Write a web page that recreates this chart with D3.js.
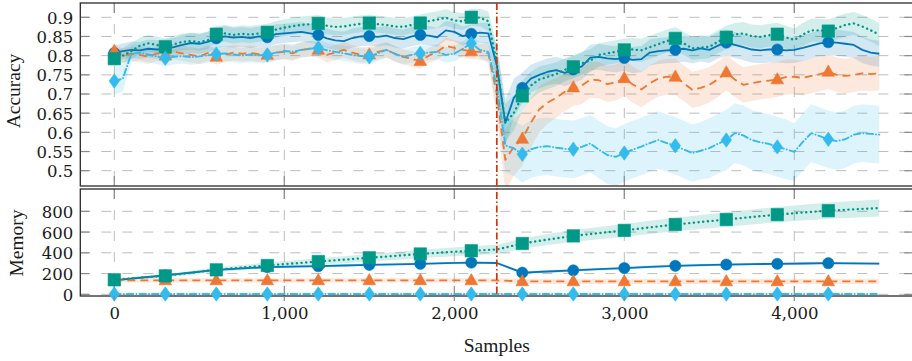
<!DOCTYPE html>
<html>
<head>
<meta charset="utf-8">
<script src="https://cdn.jsdelivr.net/npm/d3@7"></script>
<style>
  body { margin: 0; background: #fff; }
  svg { display: block; }
</style>
</head>
<body>
<svg id="chart" width="912" height="361"></svg>
<script>
// ---- data -------------------------------------------------------------
// accuracy curves are sampled every 50 samples (0 .. 4500)
const accStep = 50;
const accBlue = [
  0.807,0.812,0.815,0.814,0.818,0.816,0.818,0.822,0.828,0.833,
  0.831,0.836,0.845,0.850,0.847,0.849,0.846,0.850,0.848,0.856,
  0.858,0.860,0.862,0.858,0.854,0.845,0.840,0.838,0.846,0.850,
  0.851,0.849,0.852,0.846,0.843,0.850,0.854,0.852,0.848,0.866,
  0.862,0.851,0.857,0.860,0.858,0.775,0.625,0.690,0.716,0.740,
  0.750,0.758,0.762,0.755,0.764,0.772,0.795,0.797,0.793,0.791,
  0.794,0.789,0.791,0.808,0.812,0.814,0.815,0.818,0.814,0.819,
  0.815,0.826,0.834,0.828,0.822,0.816,0.814,0.816,0.816,0.814,
  0.815,0.820,0.826,0.832,0.835,0.834,0.831,0.828,0.815,0.808,
  0.805];
const accBlueSd = [
  0.020,0.020,0.022,0.022,0.024,0.024,0.025,0.025,0.026,0.026,
  0.026,0.027,0.027,0.027,0.026,0.026,0.026,0.026,0.026,0.026,
  0.025,0.025,0.025,0.025,0.025,0.025,0.025,0.025,0.025,0.025,
  0.025,0.025,0.025,0.025,0.025,0.025,0.025,0.025,0.025,0.025,
  0.025,0.025,0.025,0.026,0.028,0.050,0.060,0.050,0.040,0.036,
  0.035,0.035,0.035,0.035,0.035,0.035,0.034,0.034,0.034,0.034,
  0.034,0.034,0.034,0.034,0.034,0.034,0.034,0.034,0.034,0.034,
  0.034,0.034,0.034,0.034,0.034,0.034,0.034,0.034,0.034,0.034,
  0.034,0.034,0.034,0.034,0.034,0.034,0.034,0.034,0.034,0.034,
  0.034];
const accOrange = [
  0.812,0.800,0.805,0.802,0.797,0.806,0.800,0.810,0.806,0.802,
  0.798,0.807,0.797,0.802,0.808,0.805,0.807,0.804,0.802,0.808,
  0.810,0.806,0.815,0.818,0.815,0.802,0.808,0.815,0.808,0.802,
  0.803,0.810,0.815,0.805,0.797,0.792,0.786,0.800,0.810,0.826,
  0.820,0.815,0.811,0.810,0.806,0.700,0.528,0.562,0.583,0.625,
  0.660,0.678,0.690,0.706,0.717,0.722,0.737,0.736,0.726,0.730,
  0.741,0.725,0.712,0.728,0.740,0.745,0.745,0.728,0.711,0.716,
  0.724,0.738,0.756,0.738,0.724,0.728,0.732,0.735,0.738,0.744,
  0.745,0.742,0.747,0.752,0.758,0.750,0.747,0.750,0.754,0.752,
  0.754];
const accOrangeSd = [
  0.018,0.018,0.018,0.019,0.019,0.019,0.020,0.020,0.020,0.020,
  0.020,0.020,0.020,0.020,0.020,0.020,0.020,0.020,0.020,0.020,
  0.020,0.020,0.020,0.020,0.020,0.020,0.020,0.020,0.020,0.020,
  0.020,0.020,0.020,0.020,0.020,0.020,0.020,0.020,0.020,0.020,
  0.020,0.020,0.020,0.021,0.024,0.060,0.080,0.075,0.070,0.065,
  0.060,0.055,0.052,0.050,0.048,0.048,0.047,0.047,0.047,0.047,
  0.047,0.047,0.047,0.047,0.047,0.047,0.047,0.047,0.047,0.047,
  0.046,0.046,0.046,0.046,0.046,0.046,0.046,0.046,0.046,0.046,
  0.045,0.045,0.045,0.045,0.045,0.045,0.045,0.045,0.045,0.045,
  0.045];
const accTeal = [
  0.792,0.800,0.812,0.826,0.832,0.828,0.823,0.830,0.836,0.838,
  0.835,0.840,0.856,0.858,0.854,0.857,0.855,0.858,0.861,0.868,
  0.873,0.877,0.880,0.882,0.884,0.878,0.875,0.876,0.880,0.883,
  0.885,0.882,0.880,0.876,0.875,0.880,0.885,0.890,0.894,0.899,
  0.892,0.889,0.900,0.899,0.890,0.780,0.625,0.650,0.695,0.722,
  0.738,0.745,0.752,0.763,0.771,0.780,0.787,0.802,0.806,0.810,
  0.815,0.816,0.814,0.822,0.830,0.838,0.845,0.832,0.819,0.821,
  0.823,0.836,0.848,0.855,0.858,0.851,0.849,0.853,0.856,0.848,
  0.841,0.855,0.866,0.866,0.864,0.872,0.880,0.884,0.876,0.866,
  0.855];
const accTealSd = [
  0.020,0.020,0.021,0.021,0.022,0.022,0.022,0.022,0.022,0.022,
  0.022,0.022,0.022,0.022,0.022,0.022,0.022,0.022,0.022,0.022,
  0.022,0.022,0.022,0.022,0.022,0.022,0.022,0.022,0.022,0.022,
  0.022,0.022,0.022,0.022,0.022,0.022,0.022,0.022,0.022,0.022,
  0.022,0.022,0.022,0.023,0.025,0.045,0.050,0.045,0.040,0.036,
  0.034,0.032,0.031,0.030,0.030,0.030,0.030,0.030,0.030,0.030,
  0.030,0.030,0.030,0.030,0.030,0.030,0.030,0.030,0.030,0.030,
  0.030,0.030,0.030,0.030,0.030,0.030,0.030,0.030,0.030,0.030,
  0.030,0.030,0.030,0.030,0.030,0.030,0.030,0.030,0.030,0.030,
  0.030];
const accCyan = [
  0.734,0.740,0.805,0.808,0.803,0.798,0.793,0.797,0.799,0.796,
  0.798,0.801,0.804,0.806,0.803,0.800,0.803,0.801,0.802,0.808,
  0.812,0.810,0.815,0.818,0.820,0.814,0.810,0.806,0.802,0.799,
  0.797,0.806,0.815,0.805,0.797,0.802,0.806,0.808,0.810,0.802,
  0.805,0.818,0.832,0.815,0.810,0.720,0.566,0.558,0.543,0.556,
  0.562,0.564,0.560,0.557,0.556,0.562,0.571,0.555,0.541,0.536,
  0.546,0.555,0.563,0.572,0.580,0.572,0.565,0.555,0.546,0.552,
  0.559,0.570,0.580,0.598,0.592,0.580,0.574,0.570,0.562,0.556,
  0.549,0.575,0.598,0.590,0.582,0.577,0.582,0.594,0.598,0.596,
  0.594];
const accCyanSd = [
  0.035,0.035,0.022,0.020,0.020,0.020,0.020,0.020,0.020,0.020,
  0.020,0.020,0.020,0.020,0.020,0.020,0.020,0.020,0.020,0.020,
  0.020,0.020,0.020,0.020,0.020,0.020,0.020,0.020,0.020,0.020,
  0.020,0.020,0.020,0.020,0.020,0.020,0.020,0.020,0.020,0.020,
  0.020,0.020,0.020,0.021,0.025,0.060,0.070,0.072,0.074,0.075,
  0.075,0.075,0.075,0.075,0.075,0.075,0.075,0.075,0.075,0.075,
  0.075,0.075,0.075,0.075,0.075,0.075,0.075,0.075,0.075,0.075,
  0.078,0.078,0.078,0.078,0.078,0.078,0.078,0.078,0.078,0.078,
  0.075,0.075,0.075,0.075,0.075,0.075,0.075,0.075,0.075,0.075,
  0.075];

// memory curves are sampled every 150 samples (0 .. 4500)
const memStep = 150;
const memBlue   = [135,160,182,210,235,250,262,267,271,278,284,289,294,300,306,302,
                   209,220,231,242,253,264,275,281,287,291,294,297,300,298,295];
const memBlueSd = [6,7,8,9,10,10,10,10,10,10,10,10,10,10,10,10,
                   14,14,14,13,13,13,12,12,12,12,12,12,12,12,12];
const memOrange   = [135,135,135,135,135,135,135,135,135,135,135,135,135,135,135,134,
                     125,125,125,125,125,125,125,125,125,125,125,125,125,125,125];
const memOrangeSd = [20,20,20,20,20,20,20,20,20,20,20,20,20,20,20,20,
                     25,25,25,25,25,25,25,25,25,25,25,25,25,25,25];
const memTeal   = [140,160,178,208,236,258,278,297,316,334,352,370,389,405,420,432,
                   490,528,563,590,616,645,673,697,721,745,768,788,806,819,831];
const memTealSd = [10,13,16,19,22,25,28,30,32,34,36,38,40,42,44,46,
                   50,53,56,59,62,64,66,68,70,72,74,76,78,80,82];
const memCyan   = [3,3,3,3,3,3,3,3,3,3,3,3,3,3,3,3,3,3,3,3,3,3,3,3,3,3,3,3,3,3,3];
const memCyanSd = [3,3,3,3,3,3,3,3,3,3,3,3,3,3,3,3,3,3,3,3,3,3,3,3,3,3,3,3,3,3,3];

const markerSamples = [0,300,600,900,1200,1500,1800,2100,2400,2700,3000,3300,3600,3900,4200];
const driftAt = 2250;

const sampleTicks = [0,1000,2000,3000,4000];
const accTicks = [0.5,0.55,0.6,0.65,0.7,0.75,0.8,0.85,0.9];
const accTickLabels = ["0.5","0.55","0.6","0.65","0.7","0.75","0.8","0.85","0.9"];
const memTicks = [0,200,400,600,800];
const memTickLabels = ["0","200","400","600","800"];

// ---- styles -------------------------------------------------------------
const series = [
  { key: "blue",   color: "#0077BB", dash: null,              cap: "butt",  width: 1.8, marker: "circle",
    acc: accBlue, accSd: accBlueSd, mem: memBlue, memSd: memBlueSd },
  { key: "orange", color: "#EE7733", dash: "8,5",             cap: "butt",  width: 1.8, marker: "triangle",
    acc: accOrange, accSd: accOrangeSd, mem: memOrange, memSd: memOrangeSd },
  { key: "teal",   color: "#009988", dash: "0.1,4.6",         cap: "round", width: 2.4, marker: "square",
    acc: accTeal, accSd: accTealSd, mem: memTeal, memSd: memTealSd },
  { key: "cyan",   color: "#33BBEE", dash: "6.5,3,0.1,3",     cap: "round", width: 1.9, marker: "diamond",
    acc: accCyan, accSd: accCyanSd, mem: memCyan, memSd: memCyanSd }
];

const markerPath = {
  circle:   d3.symbol(d3.symbolCircle, Math.PI * 5.6 * 5.6)(),
  square:   "M-6.2,-6.2H6.2V6.2H-6.2Z",
  triangle: "M0,-6.8L6.3,4.4H-6.3Z",
  diamond:  "M0,-7.2L5.2,0L0,7.2L-5.2,0Z"
};

// ---- layout -------------------------------------------------------------
const svg = d3.select("#chart");
const left = 80.3, right = 913.3;
const accPanel = { top: 3, bottom: 186 };
const memPanel = { top: 189, bottom: 296 };

const x = d3.scaleLinear().domain([-200, 4700]).range([left, right]);
const yAcc = d3.scaleLinear().domain([0.4601, 0.9373]).range([accPanel.bottom, accPanel.top]);
const yMem = d3.scaleLinear().domain([-16, 1015]).range([memPanel.bottom, memPanel.top]);

const tickFont = "DejaVu Serif";
const titleFont = "Liberation Serif";
const gridColor = "#bdbdbd";
const tickColor = "#8a8a8a";

const defs = svg.append("defs");
[["clipAcc", accPanel], ["clipMem", memPanel]].forEach(([id, p]) => {
  defs.append("clipPath").attr("id", id)
    .append("rect").attr("x", left).attr("y", p.top)
    .attr("width", right - left).attr("height", p.bottom - p.top);
});

const panels = [];

function drawPanel(panel, yScale, ticks, labels, clipId, valueKey, sdKey, step) {
  const g = svg.append("g");

  // grid
  const grid = g.append("g").attr("stroke", gridColor).attr("stroke-width", 1)
    .attr("stroke-dasharray", "10,11");
  grid.selectAll("line.h").data(ticks).join("line").attr("class", "h")
    .attr("x1", left).attr("x2", right)
    .attr("y1", d => yScale(d)).attr("y2", d => yScale(d));
  grid.selectAll("line.v").data(sampleTicks).join("line").attr("class", "v")
    .attr("x1", d => x(d)).attr("x2", d => x(d))
    .attr("y1", panel.top).attr("y2", panel.bottom);

  // tick marks
  const tk = g.append("g").attr("stroke", tickColor).attr("stroke-width", 1.2);
  tk.selectAll("line.yl").data(ticks).join("line").attr("class", "yl")
    .attr("x1", left).attr("x2", left + 9)
    .attr("y1", d => yScale(d)).attr("y2", d => yScale(d));
  tk.selectAll("line.yr").data(ticks).join("line").attr("class", "yr")
    .attr("x1", right - 9).attr("x2", right)
    .attr("y1", d => yScale(d)).attr("y2", d => yScale(d));
  tk.selectAll("line.xt").data(sampleTicks).join("line").attr("class", "xt")
    .attr("x1", d => x(d)).attr("x2", d => x(d))
    .attr("y1", panel.top).attr("y2", panel.top + 10);
  tk.selectAll("line.xb").data(sampleTicks).join("line").attr("class", "xb")
    .attr("x1", d => x(d)).attr("x2", d => x(d))
    .attr("y1", panel.bottom - 10).attr("y2", panel.bottom);

  // y axis labels
  const axis = d3.axisLeft(yScale).tickValues(ticks)
    .tickFormat((d, i) => labels[i]).tickSize(0).tickPadding(7);
  const ag = g.append("g").attr("transform", `translate(${left},0)`).call(axis);
  ag.select(".domain").remove();
  ag.selectAll("text").attr("font-family", tickFont).attr("font-size", 16.5)
    .attr("fill", "#1a1a1a").attr("dy", "0.36em");

  // bands and lines (clipped to the panel)
  const plot = g.append("g").attr("clip-path", `url(#${clipId})`);
  series.forEach(s => {
    const vals = s[valueKey], sd = s[sdKey];
    const area = d3.area()
      .x((d, i) => x(i * step))
      .y0((d, i) => yScale(d - sd[i]))
      .y1((d, i) => yScale(d + sd[i]));
    plot.append("path").attr("d", area(vals))
      .attr("fill", s.color).attr("fill-opacity", 0.17).attr("stroke", "none");
  });

  // frame
  g.append("rect").attr("x", left).attr("y", panel.top)
    .attr("width", right - left).attr("height", panel.bottom - panel.top)
    .attr("fill", "none").attr("stroke", "#2a2a2a").attr("stroke-width", 1.3);

  // each series: line, then its markers (markers may overhang the frame)
  const top = svg.append("g");
  series.forEach(s => {
    const vals = s[valueKey];
    const line = d3.line().x((d, i) => x(i * step)).y(d => yScale(d));
    top.append("path").attr("clip-path", `url(#${clipId})`).attr("d", line(vals))
      .attr("fill", "none").attr("stroke", s.color).attr("stroke-width", s.width)
      .attr("stroke-dasharray", s.dash).attr("stroke-linecap", s.cap)
      .attr("stroke-linejoin", "round");
    top.selectAll(null).data(markerSamples).join("path")
      .attr("d", markerPath[s.marker])
      .attr("transform", d => `translate(${x(d)},${yScale(vals[Math.round(d / step)])})`)
      .attr("fill", s.color).attr("stroke", s.color).attr("stroke-width", 0.6);
  });
}

drawPanel(accPanel, yAcc, accTicks, accTickLabels, "clipAcc", "acc", "accSd", accStep);
drawPanel(memPanel, yMem, memTicks, memTickLabels, "clipMem", "mem", "memSd", memStep);

// outward tick marks below the lower panel
svg.append("g").attr("stroke", tickColor).attr("stroke-width", 1.2)
  .selectAll("line").data(sampleTicks).join("line")
  .attr("x1", d => x(d)).attr("x2", d => x(d))
  .attr("y1", memPanel.bottom).attr("y2", memPanel.bottom + 5);

// concept drift marker across both panels
svg.append("line")
  .attr("x1", x(driftAt)).attr("x2", x(driftAt))
  .attr("y1", accPanel.top).attr("y2", memPanel.bottom)
  .attr("stroke", "#CC3311").attr("stroke-width", 1.7)
  .attr("stroke-dasharray", "7,2.5,1.5,2.5");

// x axis labels
const xAxis = d3.axisBottom(x).tickValues(sampleTicks).tickFormat(d3.format(","))
  .tickSize(0).tickPadding(11);
const xg = svg.append("g").attr("transform", `translate(0,${memPanel.bottom})`).call(xAxis);
xg.select(".domain").remove();
xg.selectAll("text").attr("font-family", tickFont).attr("font-size", 16.5).attr("fill", "#1a1a1a");

// axis titles
svg.append("text").attr("x", (left + right) / 2).attr("y", 352)
  .attr("text-anchor", "middle").attr("font-family", titleFont).attr("font-size", 19.5)
  .attr("fill", "#1a1a1a").text("Samples");
svg.append("text").attr("transform", `translate(19.5,91) rotate(-90)`)
  .attr("text-anchor", "middle").attr("font-family", titleFont).attr("font-size", 19.5)
  .attr("fill", "#1a1a1a").text("Accuracy");
svg.append("text").attr("transform", `translate(23,243) rotate(-90)`)
  .attr("text-anchor", "middle").attr("font-family", titleFont).attr("font-size", 19.5)
  .attr("fill", "#1a1a1a").text("Memory");
</script>
</body>
</html>
